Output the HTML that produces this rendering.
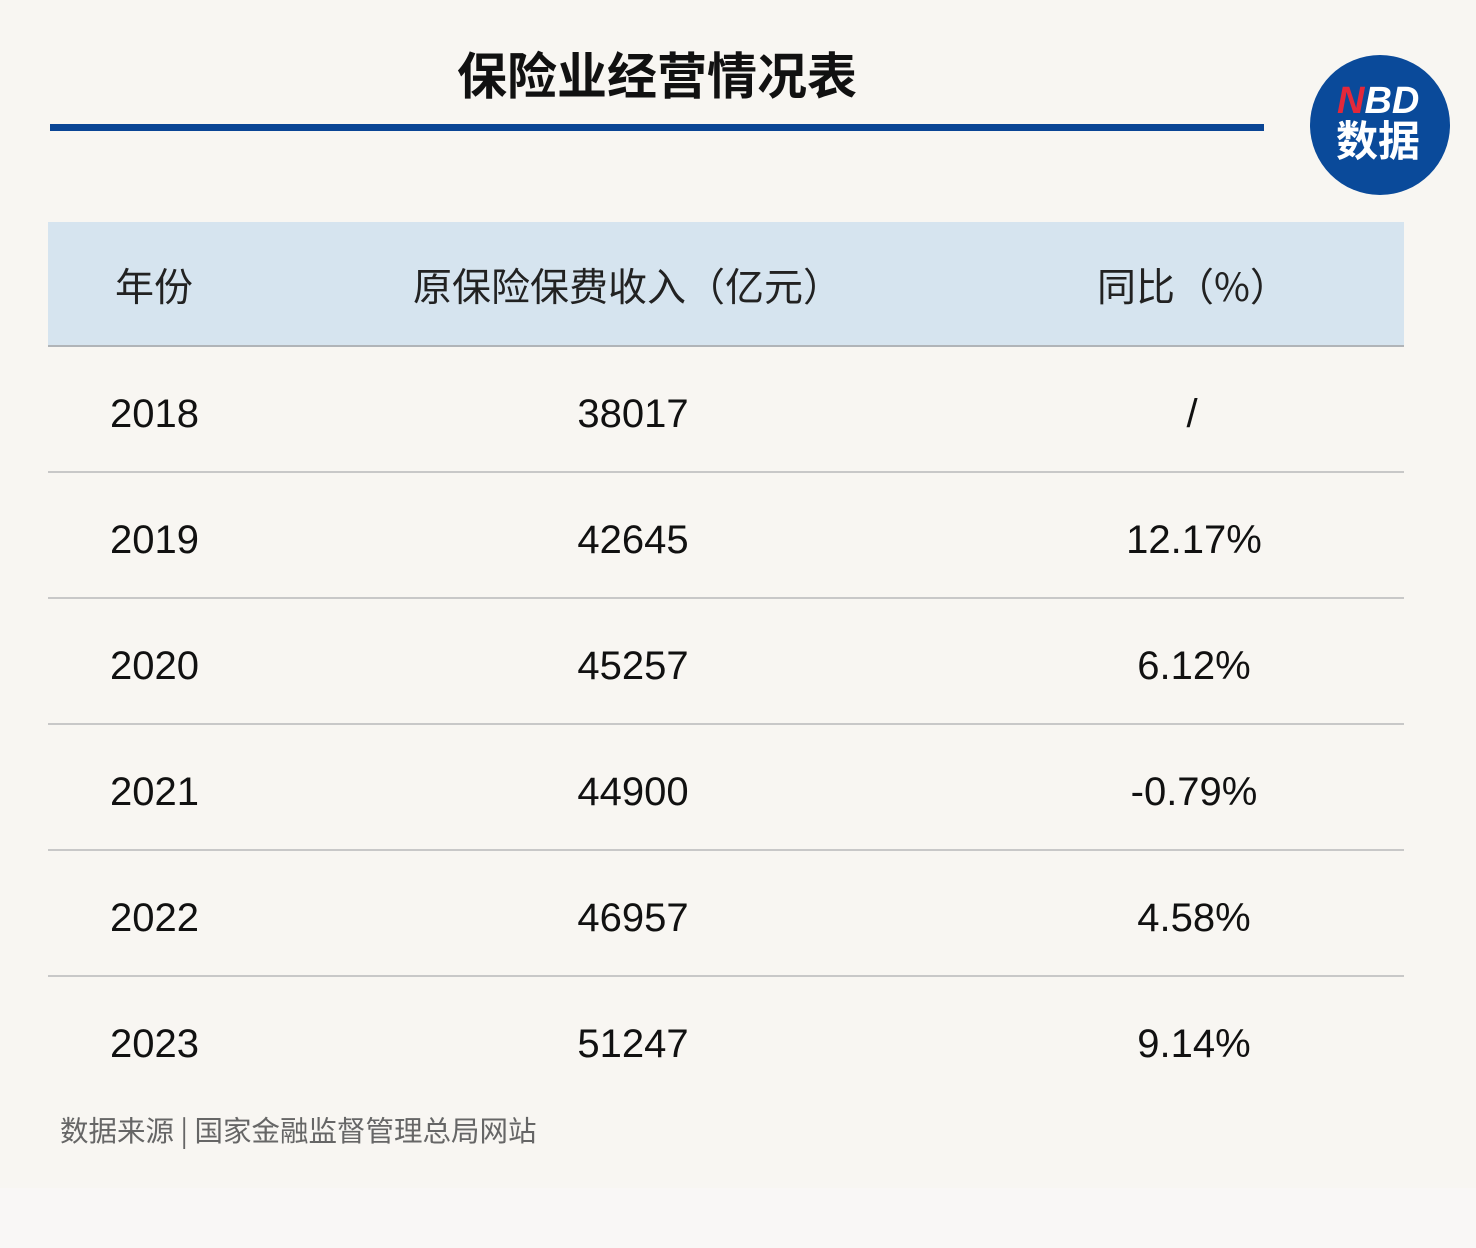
<!DOCTYPE html>
<html><head><meta charset="utf-8"><style>
body{margin:0;width:1476px;height:1248px;background:#f8f6f2;position:relative;overflow:hidden;font-family:"Liberation Sans","Noto Sans CJK SC",sans-serif;}
.a{position:absolute;}
.t{position:absolute;font-size:40px;color:#111;line-height:1;white-space:nowrap}
.c{transform:translateX(-50%)}
.h{position:absolute;font-size:39px;color:#222;line-height:1;white-space:nowrap;font-family:"Noto Sans CJK SC",sans-serif}
.ln{position:absolute;left:48px;width:1356px;height:2px;background:#c8c8c8}
</style></head><body>
<div class="a" style="left:0;top:1188px;width:1476px;height:60px;background:#f9f7f6"></div>
<div class="a c" style="left:657px;top:46px;font-size:50px;font-weight:bold;color:#111;font-family:'Noto Sans CJK SC',sans-serif;line-height:1.1;white-space:nowrap">保险业经营情况表</div>
<div class="a" style="left:50px;top:124px;width:1214px;height:7px;background:#0a4595"></div>
<div class="a" style="left:1310px;top:55px;width:140px;height:140px;border-radius:50%;background:#0a4a9a"></div>
<div class="a" style="left:1337px;top:82px;font-size:38px;font-weight:bold;font-style:italic;color:#fff;line-height:1"><span style="color:#e3283a">N</span>BD</div>
<div class="a" style="left:1336px;top:118px;font-size:42px;font-weight:bold;color:#fff;line-height:1;font-family:'Noto Sans CJK SC',sans-serif">数据</div>
<div class="a" style="left:48px;top:222px;width:1356px;height:124px;background:#d6e4ef"></div>
<div class="ln" style="top:345px;background:#b0b4b8"></div>
<div class="h" style="left:115px;top:266px">年份</div>
<div class="h" style="left:413px;top:266px">原保险保费收入（亿元）</div>
<div class="h" style="left:1097px;top:266px">同比（%）</div>
<div class="ln" style="top:471px"></div><div class="ln" style="top:597px"></div><div class="ln" style="top:723px"></div><div class="ln" style="top:849px"></div><div class="ln" style="top:975px"></div>
<div class="t" style="left:110px;top:394px">2018</div><div class="t c" style="left:633px;top:394px">38017</div><div class="t c" style="left:1192px;top:394px">/</div>
<div class="t" style="left:110px;top:520px">2019</div><div class="t c" style="left:633px;top:520px">42645</div><div class="t c" style="left:1194px;top:520px">12.17%</div>
<div class="t" style="left:110px;top:646px">2020</div><div class="t c" style="left:633px;top:646px">45257</div><div class="t c" style="left:1194px;top:646px">6.12%</div>
<div class="t" style="left:110px;top:772px">2021</div><div class="t c" style="left:633px;top:772px">44900</div><div class="t c" style="left:1194px;top:772px">-0.79%</div>
<div class="t" style="left:110px;top:898px">2022</div><div class="t c" style="left:633px;top:898px">46957</div><div class="t c" style="left:1194px;top:898px">4.58%</div>
<div class="t" style="left:110px;top:1024px">2023</div><div class="t c" style="left:633px;top:1024px">51247</div><div class="t c" style="left:1194px;top:1024px">9.14%</div>
<div class="a" style="left:60px;top:1116px;font-size:28.5px;color:#666;line-height:1;white-space:nowrap;font-family:'Noto Sans CJK SC',sans-serif">数据来源 | 国家金融监督管理总局网站</div>
</body></html>
